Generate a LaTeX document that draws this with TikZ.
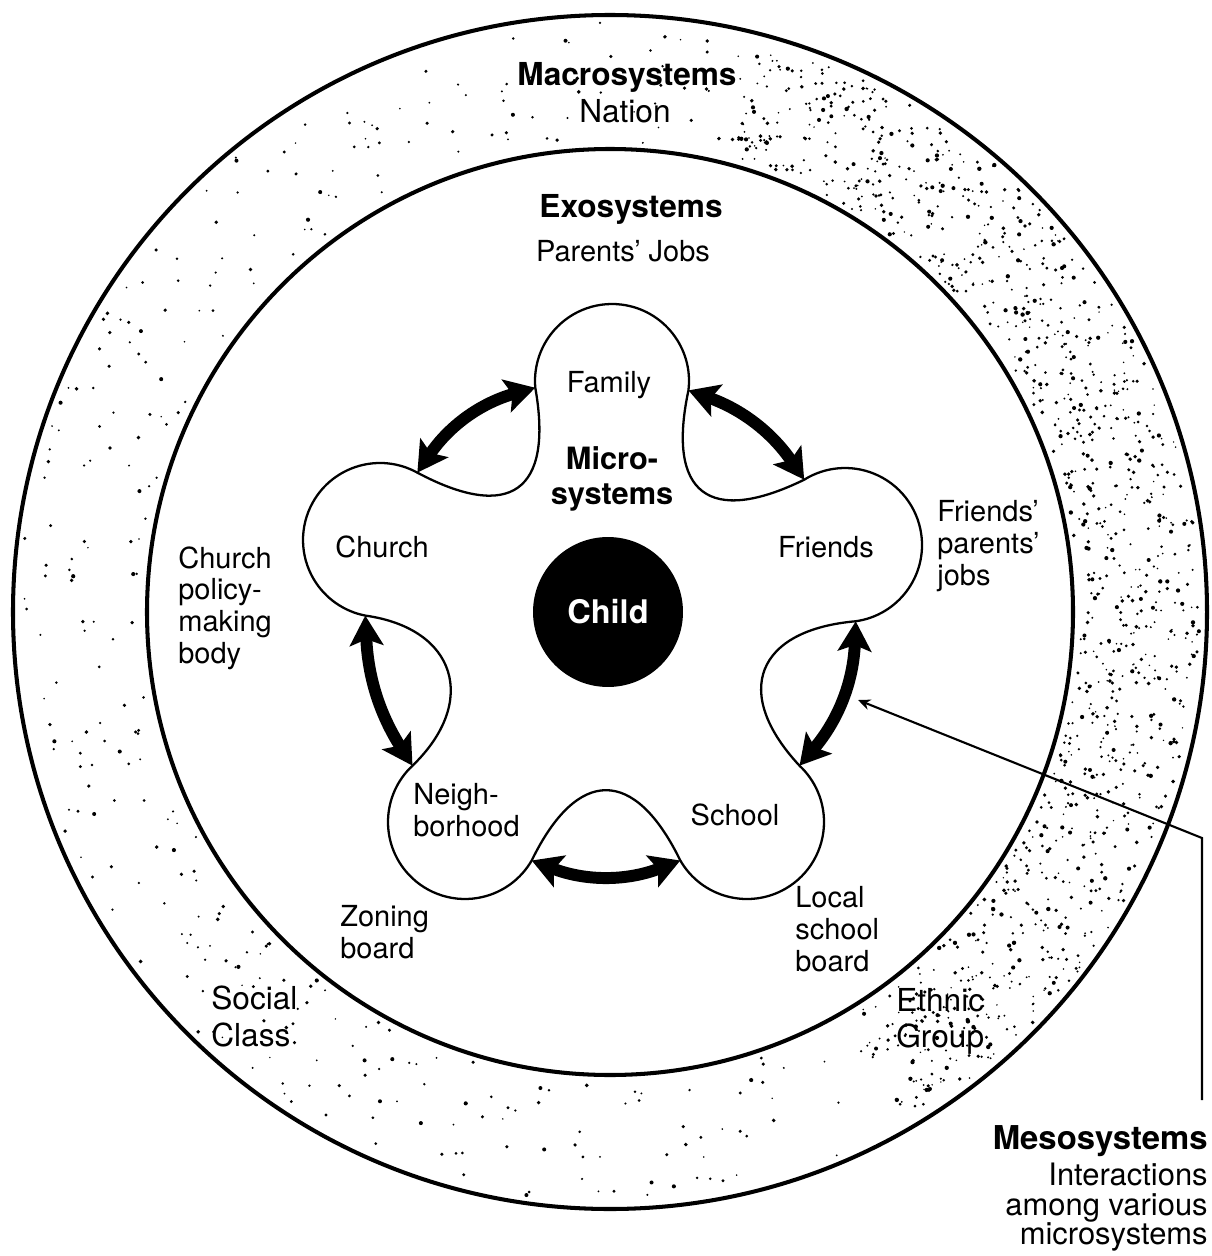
\documentclass[tikz,border=0pt]{standalone}
\usepackage{fontspec}
\setmainfont{TeX Gyre Heros}
\usetikzlibrary{arrows.meta,calc}
\tikzset{
	ring/.style={line width=2.3pt},
	blob/.style={line width=1.3pt, fill=white, line join=round},
	link/.style={line width=6.8pt, >={Stealth[length=17pt,width=19pt,inset=3.5pt]}, <->},
	leader/.style={line width=1.2pt, arrows={Stealth[length=7pt,width=6pt]-}},
	head/.style={font=\fontsize{18}{20}\selectfont\bfseries, inner sep=0pt},
	lbl/.style={font=\fontsize{16.5}{18.2}\selectfont, inner sep=0pt},
	ringlbl/.style={font=\fontsize{18}{20.6}\selectfont, inner sep=0pt},
	meso/.style={font=\fontsize{17.6}{17}\selectfont, inner sep=0pt, align=right},
	child/.style={circle, fill=black, text=white, minimum size=3cm, inner sep=0pt,
		font=\fontsize{18.5}{20}\selectfont\bfseries}
}

\begin{document}
\begin{tikzpicture}[x=0.02cm, y=0.02cm]
\useasboundingbox (0,0) rectangle (1211,-1256);
\coordinate (ctr) at (610,-612);

% speckle of the outer ring
\pgfmathsetseed{4242}
\foreach \i in {1,...,560}{
	\pgfmathsetmacro{\dang}{360*rnd}
	\pgfmathsetmacro{\drad}{470+120*rnd}
	\pgfmathsetmacro{\dsz}{0.8+1.3*rnd}
	\fill (ctr) ++(\dang:\drad) circle[radius=\dsz];
}
\foreach \i in {1,...,950}{
	\pgfmathsetmacro{\dang}{-60+135*rnd}
	\pgfmathsetmacro{\drad}{470+120*rnd}
	\pgfmathsetmacro{\dsz}{0.8+1.4*rnd}
	\fill (ctr) ++(\dang:\drad) circle[radius=\dsz];
}

\draw[ring] (ctr) circle[radius=597];
\draw[ring] (ctr) circle[radius=463];

\coordinate (fam) at (612,-381);
\coordinate (chu) at (380,-540);
\coordinate (fri) at (845,-545);
\coordinate (nei) at (465,-822);
\coordinate (sch) at (747,-822);

\coordinate (famR) at ($(fam)+(-7:77)$);
\coordinate (famL) at ($(fam)+(185:77)$);
\coordinate (chuT) at ($(chu)+(61:77)$);
\coordinate (chuB) at ($(chu)+(259:77)$);
\coordinate (neiT) at ($(nei)+(133:77)$);
\coordinate (neiR) at ($(nei)+(330:77)$);
\coordinate (schL) at ($(sch)+(210:77)$);
\coordinate (schT) at ($(sch)+(47:77)$);
\coordinate (friB) at ($(fri)+(-82:77)$);
\coordinate (friT) at ($(fri)+(122:77)$);

\draw[blob] (famR) arc[start angle=-7, end angle=185, radius=77]
	to[out=280, in=332, looseness=1.85] (chuT)
	arc[start angle=61, end angle=259, radius=77]
	to[out=-8, in=44, looseness=1.5] (neiT)
	arc[start angle=133, end angle=330, radius=77]
	to[out=64, in=116, looseness=1.8] (schL)
	arc[start angle=210, end angle=407, radius=77]
	to[out=133, in=185, looseness=1.65] (friB)
	arc[start angle=-82, end angle=122, radius=77]
	to[out=206, in=258, looseness=1.85] (famR) -- cycle;

\node[child] (kid) at (608,-612) {Child};

\node[head, anchor=base] (macro) at (627,-86) {Macrosystems};
\node[ringlbl, anchor=base] (nation) at (625,-123) {Nation};
\node[head, anchor=base] (exo) at (631,-218) {Exosystems};
\node[lbl, anchor=base] (pjobs) at (623,-262) {Parents' Jobs};

\node[lbl, anchor=base] (family) at (609,-393) {Family};
\node[head, font=\fontsize{17.5}{19.8}\selectfont\bfseries, align=center, anchor=north] (micro) at (612,-446) {Micro-\\systems};
\node[lbl, anchor=base] (church) at (382,-557) {Church};
\node[lbl, anchor=base] (friends) at (826,-557) {Friends};
\node[lbl, align=left, anchor=north west] (neigh) at (413,-783) {Neigh-\\borhood};
\node[lbl, anchor=base] (school) at (735,-825) {School};

\node[lbl, align=left, anchor=north west] (cpol) at (178,-546) {Church\\policy-\\making\\body};
\node[lbl, align=left, anchor=north west] (fpj) at (937,-500) {Friends'\\parents'\\jobs};
\node[lbl, align=left, anchor=north west] (zone) at (340,-905) {Zoning\\board};
\node[lbl, align=left, anchor=north west] (lsb) at (795,-886) {Local\\school\\board};
\node[ringlbl, align=left, anchor=north west] (social) at (211,-986) {Social\\Class};
\node[ringlbl, align=left, anchor=north west] (ethnic) at (896,-988) {Ethnic\\Group};

\node[meso, anchor=north east] (meso) at (1208,-1125) {{\fontsize{18.7}{17}\selectfont\bfseries Mesosystems}\\[3.4pt]Interactions\\among various\\microsystems};

\path (famL) edge[link, bend right=20] (chuT);
\path (chuB) edge[link, bend right=15] (neiT);
\path (neiR) edge[link, bend right=21] (schL);
\path (schT) edge[link, bend right=19] (friB);
\path (friT) edge[link, bend right=18] (famR);

\coordinate (tip) at (858,-700);
\coordinate (kink) at (1202,-838);
\draw[leader] (tip) -- (kink) -- ($(kink |- meso.north)+(0,25)$);
\end{tikzpicture}
\end{document}
